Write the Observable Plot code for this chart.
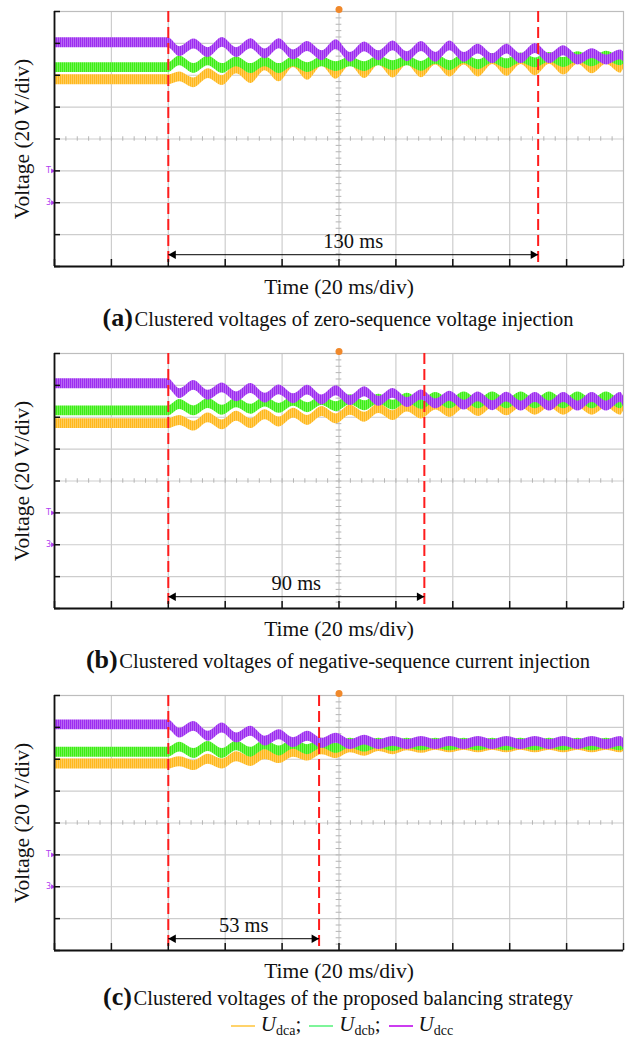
<!DOCTYPE html>
<html><head><meta charset="utf-8">
<script src="https://cdn.jsdelivr.net/npm/d3@7"></script>
<script src="https://cdn.jsdelivr.net/npm/@observablehq/plot@0.6"></script>
<style>
body{margin:0;background:#fff;width:628px;font-family:"Liberation Serif","Times New Roman",serif;color:#111;}
.cap{height:41px;line-height:34px;text-align:center;font-size:20.5px;white-space:nowrap;padding-left:48px;}
.cap.last{height:26px;line-height:24px;}
.cap b{font-size:26px;}
.legend{text-align:center;font-size:21px;line-height:26px;white-space:nowrap;padding-left:48px;}
.legend .sw{display:inline-block;width:24px;height:2px;vertical-align:middle;margin:0 6px 0 8px;}
.legend sub{font-size:14px;vertical-align:-4px;}
svg{display:block;}
</style></head><body><div id="root"></div>
<script>
// time axis (ms): 10 divisions × 20 ms
const timeMs = [0,40,44,49,54,59,64,69,74,79,84,89,94,99,104,109,114,119,124,129,134,139,144,149,154,159,164,169,174,179,184,189,194,199,200];
// voltage traces, in divisions (20 V/div)
const udcaA = [5.86,5.86,5.95,5.76,6.05,5.83,6.20,5.90,6.30,5.95,6.40,6.00,6.44,6.03,6.46,6.05,6.47,6.07,6.48,6.08,6.48,6.10,6.48,6.10,6.49,6.12,6.49,6.14,6.50,6.16,6.50,6.20,6.50,6.22,6.35];
const udcbA = [6.24,6.24,6.45,6.21,6.45,6.21,6.42,6.21,6.42,6.21,6.42,6.24,6.42,6.27,6.42,6.27,6.45,6.30,6.45,6.28,6.50,6.30,6.52,6.33,6.53,6.36,6.54,6.39,6.56,6.40,6.58,6.42,6.60,6.45,6.50];
const udccA = [7.02,7.02,6.74,6.98,6.71,7.03,6.71,6.99,6.67,6.99,6.64,6.90,6.61,6.96,6.56,6.89,6.61,6.92,6.58,6.90,6.56,6.92,6.56,6.82,6.52,6.82,6.52,6.84,6.52,6.77,6.48,6.68,6.48,6.64,6.58];

const udcaB = [5.80,5.80,5.90,5.72,5.98,5.76,6.03,5.80,6.08,5.85,6.13,5.90,6.18,5.95,6.22,6.00,6.27,6.05,6.32,6.10,6.38,6.15,6.42,6.18,6.44,6.20,6.45,6.22,6.45,6.22,6.45,6.22,6.45,6.22,6.35];
const udcbB = [6.20,6.20,6.40,6.20,6.43,6.22,6.45,6.25,6.48,6.28,6.50,6.30,6.52,6.33,6.55,6.36,6.57,6.38,6.60,6.40,6.62,6.42,6.64,6.42,6.64,6.42,6.64,6.42,6.64,6.42,6.64,6.42,6.64,6.42,6.52];
const udccB = [7.05,7.05,6.74,7.00,6.69,6.92,6.64,6.90,6.60,6.86,6.58,6.85,6.54,6.83,6.52,6.80,6.50,6.75,6.46,6.70,6.42,6.66,6.38,6.64,6.36,6.63,6.35,6.62,6.35,6.62,6.35,6.62,6.35,6.62,6.50];

const udcaC = [5.85,5.85,5.92,5.80,6.00,5.85,6.08,5.93,6.15,6.02,6.22,6.10,6.30,6.18,6.36,6.25,6.40,6.30,6.42,6.34,6.44,6.36,6.44,6.36,6.44,6.36,6.44,6.36,6.44,6.36,6.44,6.36,6.44,6.36,6.40];
const udcbC = [6.22,6.22,6.38,6.18,6.40,6.18,6.42,6.22,6.45,6.26,6.47,6.30,6.50,6.34,6.50,6.38,6.50,6.40,6.50,6.42,6.50,6.42,6.50,6.42,6.50,6.42,6.50,6.42,6.50,6.42,6.50,6.42,6.50,6.42,6.46];
const udccC = [7.08,7.08,6.82,7.03,6.72,6.98,6.67,6.88,6.57,6.77,6.52,6.72,6.50,6.66,6.46,6.60,6.46,6.56,6.46,6.56,6.46,6.56,6.46,6.56,6.46,6.56,6.46,6.56,6.46,6.56,6.46,6.56,6.46,6.56,6.50];

const rippleHalf = 0.155;           // half-height of the switching ripple band (div)
const markerTimes = [[40,170],[40,130],[40,93]];   // red dashed markers (ms)
const intervalLabels = ["130 ms","90 ms","53 ms"];
const arrowLevel = 0.37;            // divisions
const groundLevels = [3,2];
const groundLabels = ["T","3"];
const panelLetters = ["(a)","(b)","(c)"];
const captions = ["Clustered voltages of zero-sequence voltage injection",
                  "Clustered voltages of negative-sequence current injection",
                  "Clustered voltages of the proposed balancing strategy"];
const seriesNames = ["dca","dcb","dcc"];
const xLabel = "Time (20 ms/div)";
const yLabel = "Voltage (20 V/div)";

const traceColors = ["#ffb81c","#3cee14","#9c2cf0"];
const legendColors = ["#ffd36b","#7ef59a","#cc3cf0"];
const serif = "Liberation Serif, Times New Roman, serif";

function panel(k, series) {
  const xTicks = d3.range(0, 201, 20);
  const yTicks = d3.range(0, 9, 1);
  const m = markerTimes[k];
  const areas = series.map((vals, s) => Plot.areaY(timeMs.map((t, i) => ({t, v: vals[i]})), {
    x: "t", y1: d => d.v - rippleHalf, y2: d => d.v + rippleHalf,
    fill: `url(#rip-${k}-${s})`, curve: "monotone-x"
  }));
  const grey = "#cdcdcd";
  const svg = Plot.plot({
    width: 628, height: 301,
    marginTop: 11, marginRight: 5, marginBottom: 35, marginLeft: 54,
    x: {domain: [0, 200], axis: null},
    y: {domain: [0, 8], axis: null},
    style: {fontFamily: serif, background: "white", overflow: "visible", color: "#111"},
    marks: [
      Plot.gridX(xTicks.slice(1, -1), {stroke: grey, strokeOpacity: 1, strokeWidth: 1.2}),
      Plot.gridY(yTicks.slice(1, -1), {stroke: grey, strokeOpacity: 1, strokeWidth: 1.2}),
      Plot.frame({stroke: "#bdbdbd", strokeWidth: 1.2}),
      Plot.ruleX(d3.range(0, 201, 4), {y1: 3.93, y2: 4.07, stroke: "#b5b5b5"}),
      Plot.ruleY(d3.range(0, 8.01, 0.2), {x1: 99.0, x2: 101.0, stroke: "#b5b5b5"}),
      ...areas,
      Plot.ruleX(m, {stroke: "#ff1c1c", strokeWidth: 2, strokeDasharray: "11,5"}),
      Plot.link([m], {x1: d => d[0], x2: d => d[1], y1: arrowLevel, y2: arrowLevel, stroke: "#000", strokeWidth: 1}),
      Plot.dot([m[0]], {x: d => d, y: arrowLevel, symbol: "triangle", rotate: -90, r: 3.2, fill: "#000", stroke: null, dx: 5}),
      Plot.dot([m[1]], {x: d => d, y: arrowLevel, symbol: "triangle", rotate: 90, r: 3.2, fill: "#000", stroke: null, dx: -5}),
      Plot.text([intervalLabels[k]], {x: () => (m[0] + m[1]) / 2, y: arrowLevel, dy: -13, fontSize: 20.5, fill: "#111"}),
      Plot.text([xLabel], {frameAnchor: "bottom", lineAnchor: "middle", textAnchor: "middle", dy: 21, fontSize: 21.5, fill: "#111"}),
      Plot.text([yLabel], {frameAnchor: "left", lineAnchor: "middle", textAnchor: "middle", dx: -32, rotate: -90, fontSize: 21.5, fill: "#111"}),
      Plot.text(groundLabels, {x: 0, y: (d, i) => groundLevels[i], dx: -6, fontSize: 8, fill: "#b03cf0", fontFamily: "DejaVu Sans"}),
      Plot.dot(groundLevels, {x: 0, y: d => d, symbol: "triangle", rotate: 90, r: 1.8, fill: "#b03cf0", stroke: null, dx: -2}),
      Plot.dot([100], {x: d => d, y: 8, dy: -2, r: 3.5, fill: "#f0882a", stroke: null}),
      Plot.axisY(yTicks, {anchor: "left", tickSize: 6, dx: 6, tickFormat: () => "", label: null, stroke: "#111", strokeWidth: 1.5}),
      Plot.axisX(xTicks, {anchor: "bottom", tickSize: 7, dy: -7, tickFormat: () => "", label: null, stroke: "#111", strokeWidth: 1.5}),
      Plot.ruleX([0], {stroke: "#111", strokeWidth: 1.8}),
      Plot.ruleY([0], {stroke: "#111", strokeWidth: 1.8})
    ]
  });
  // fine striped fill imitating the switching-ripple hatching of the scope traces
  const defs = d3.select(svg).insert("defs", ":first-child");
  traceColors.forEach((c, s) => {
    const light = d3.interpolateRgb(c, "#ffffff")(0.28);
    const p = defs.append("pattern").attr("id", `rip-${k}-${s}`)
      .attr("patternUnits", "userSpaceOnUse").attr("width", 2).attr("height", 7);
    p.append("rect").attr("width", 2).attr("height", 7).attr("fill", c);
    p.append("rect").attr("x", 1).attr("width", 1).attr("height", 7).attr("fill", light);
  });
  return svg;
}

const root = document.getElementById("root");
const allSeries = [[udcaA, udcbA, udccA], [udcaB, udcbB, udccB], [udcaC, udcbC, udccC]];
allSeries.forEach((series, k) => {
  root.appendChild(panel(k, series));
  const cap = document.createElement("div");
  cap.className = k === 2 ? "cap last" : "cap";
  cap.innerHTML = `<b>${panelLetters[k]}</b>&#8202;${captions[k]}`;
  root.appendChild(cap);
});
const leg = document.createElement("div");
leg.className = "legend";
leg.innerHTML = seriesNames.map((n, i) =>
  `<span class="sw" style="background:${legendColors[i]}"></span><i>U</i><sub>${n}</sub>${i < 2 ? ";" : ""}`).join("");
root.appendChild(leg);
</script>
</body></html>
